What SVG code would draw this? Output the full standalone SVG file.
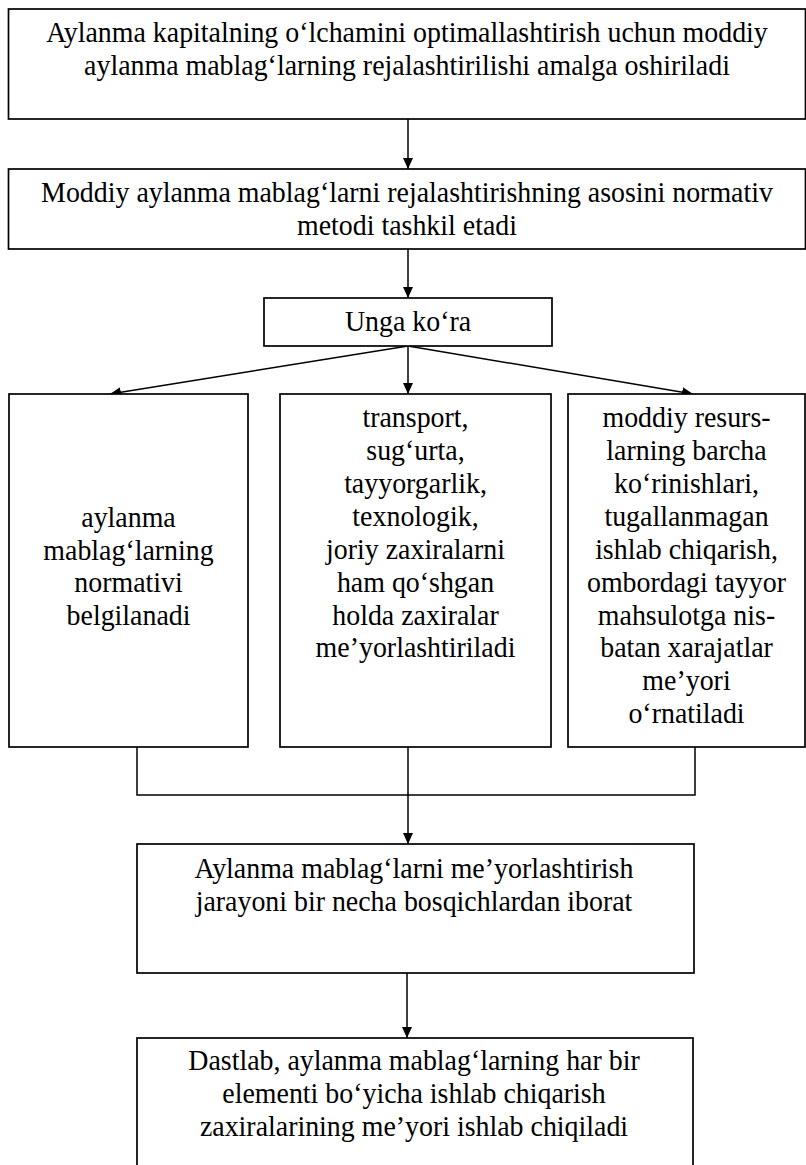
<svg xmlns="http://www.w3.org/2000/svg" width="806" height="1165" viewBox="0 0 806 1165">
<style>
.box{fill:#fff;stroke:#000;stroke-width:1.7}
.t{font-family:"Liberation Serif","Times New Roman",serif;font-size:30px;fill:#000;text-anchor:middle}
.c{fill:none;stroke:#000;stroke-width:1.5}
</style>
<defs>
<marker id="ah" markerUnits="userSpaceOnUse" markerWidth="11" markerHeight="10" refX="11" refY="5" orient="auto"><path d="M0,0 L11,5 L0,10 Z" fill="#000"/></marker>
</defs>
<rect width="806" height="1165" fill="#fff"/>
<g id="connectors">
<line class="c" x1="408" y1="119" x2="408" y2="169" marker-end="url(#ah)"/>
<line class="c" x1="408" y1="249" x2="408" y2="298" marker-end="url(#ah)"/>
<line class="c" x1="408" y1="346" x2="110" y2="394" marker-end="url(#ah)"/>
<line class="c" x1="408" y1="346" x2="408" y2="394" marker-end="url(#ah)"/>
<line class="c" x1="408" y1="346" x2="693" y2="394" marker-end="url(#ah)"/>
<polyline class="c" points="137,747 137,795 695,795 695,747"/>
<line class="c" x1="408" y1="747" x2="408" y2="844" marker-end="url(#ah)"/>
<line class="c" x1="407" y1="973" x2="407" y2="1038" marker-end="url(#ah)"/>
</g>
<g id="n1">
<rect class="box" x="8.5" y="9" width="797" height="110"/>
<text class="t" transform="matrix(0.93 0 0 1 407 0)"><tspan x="0" y="42">Aylanma kapitalning o‘lchamini optimallashtirish uchun moddiy</tspan><tspan x="0" y="75">aylanma mablag‘larning rejalashtirilishi amalga oshiriladi</tspan></text>
</g>
<g id="n2">
<rect class="box" x="8.5" y="169" width="797" height="80"/>
<text class="t" transform="matrix(0.93 0 0 1 407 0)"><tspan x="0" y="202">Moddiy aylanma mablag‘larni rejalashtirishning asosini normativ</tspan><tspan x="0" y="235">metodi tashkil etadi</tspan></text>
</g>
<g id="n3">
<rect class="box" x="264" y="298" width="288" height="48"/>
<text class="t" transform="matrix(0.93 0 0 1 408 0)" x="0" y="331">Unga ko‘ra</text>
</g>
<g id="n4">
<rect class="box" x="9" y="394" width="239" height="353"/>
<text class="t" transform="matrix(0.93 0 0 1 128.5 0)"><tspan x="0" y="527">aylanma</tspan><tspan x="0" y="560">mablag‘larning</tspan><tspan x="0" y="592">normativi</tspan><tspan x="0" y="625">belgilanadi</tspan></text>
</g>
<g id="n5">
<rect class="box" x="280" y="394" width="271" height="353"/>
<text class="t" transform="matrix(0.93 0 0 1 415.5 0)"><tspan x="0" y="427">transport,</tspan><tspan x="0" y="460">sug‘urta,</tspan><tspan x="0" y="493">tayyorgarlik,</tspan><tspan x="0" y="526">texnologik,</tspan><tspan x="0" y="559">joriy zaxiralarni</tspan><tspan x="0" y="592">ham qo‘shgan</tspan><tspan x="0" y="625">holda zaxiralar</tspan><tspan x="0" y="657">me’yorlashtiriladi</tspan></text>
</g>
<g id="n6">
<rect class="box" x="568" y="394" width="237" height="353"/>
<text class="t" transform="matrix(0.93 0 0 1 686.5 0)"><tspan x="0" y="427">moddiy resurs-</tspan><tspan x="0" y="460">larning barcha</tspan><tspan x="0" y="493">ko‘rinishlari,</tspan><tspan x="0" y="526">tugallanmagan</tspan><tspan x="0" y="559">ishlab chiqarish,</tspan><tspan x="0" y="592">ombordagi tayyor</tspan><tspan x="0" y="625">mahsulotga nis-</tspan><tspan x="0" y="657">batan xarajatlar</tspan><tspan x="0" y="690">me’yori</tspan><tspan x="0" y="723">o‘rnatiladi</tspan></text>
</g>
<g id="n7">
<rect class="box" x="137" y="844" width="557" height="129"/>
<text class="t" transform="matrix(0.93 0 0 1 414 0)"><tspan x="0" y="878">Aylanma mablag‘larni me’yorlashtirish</tspan><tspan x="0" y="911">jarayoni bir necha bosqichlardan iborat</tspan></text>
</g>
<g id="n8">
<rect class="box" x="137" y="1038" width="556" height="140"/>
<text class="t" transform="matrix(0.93 0 0 1 414 0)"><tspan x="0" y="1070">Dastlab, aylanma mablag‘larning har bir</tspan><tspan x="0" y="1103">elementi bo‘yicha ishlab chiqarish</tspan><tspan x="0" y="1136">zaxiralarining me’yori ishlab chiqiladi</tspan></text>
</g>
</svg>
